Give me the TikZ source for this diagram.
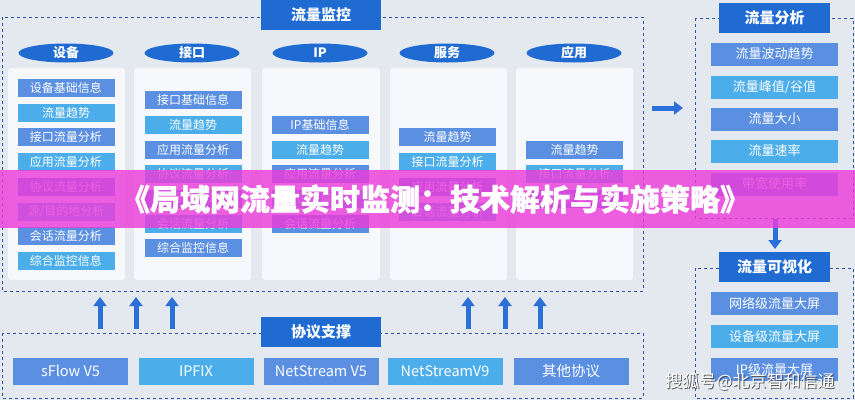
\documentclass[tikz,border=0pt]{standalone}
\usepackage{fontspec}
\setmainfont{Noto Sans CJK SC}
\newfontfamily\bannerfont{Noto Sans CJK SC}[BoldFeatures={FakeBold=1.2}]
\usepackage{xcolor}
\definecolor{bgpage}{HTML}{E4E9EF}
\definecolor{panelwhite}{HTML}{F6F8FB}
\definecolor{titleblue}{HTML}{1F6BD2}
\definecolor{itemblue}{HTML}{5A8FE2}
\definecolor{itemsky}{HTML}{4BAEEA}
\definecolor{framedash}{HTML}{2F55A8}
\definecolor{arrowblue}{HTML}{2B70D8}
\definecolor{bannerpink}{HTML}{EC3CDA}
\usepackage{tikz}
\usetikzlibrary{shapes.geometric,arrows.meta,positioning}

\begin{document}
\begin{tikzpicture}[x=1pt, y=-1pt,
    panel/.style={fill=panelwhite, rounded corners=3pt},
    frame/.style={draw=framedash, dashed, semithick},
    item/.style={minimum width=97pt, minimum height=18pt, inner sep=0pt, text=white, font=\fontsize{12}{14}\selectfont},
    blueitem/.style={item, fill=itemblue},
    skyitem/.style={item, fill=itemsky},
    sideblue/.style={blueitem, minimum width=127pt, minimum height=23pt, font=\fontsize{13}{15}\selectfont},
    sidesky/.style={skyitem, minimum width=127pt, minimum height=23pt, font=\fontsize{13}{15}\selectfont},
    protoblue/.style={blueitem, minimum width=115pt, minimum height=27pt, font=\fontsize{14.5}{16}\selectfont},
    protosky/.style={skyitem, minimum width=115pt, minimum height=27pt, font=\fontsize{14.5}{16}\selectfont},
    titlebox/.style={fill=titleblue, text=white, minimum width=120pt, minimum height=30pt, inner sep=0pt, font=\bfseries\fontsize{15}{17}\selectfont},
    tag/.style={ellipse, fill=titleblue, text=white, minimum width=95pt, minimum height=19pt, inner sep=0pt, font=\bfseries\fontsize{13}{15}\selectfont},
    bigarrow/.style={arrowblue, line width=5pt, -{Triangle[width=13pt, length=9pt]}}]
    \fill[bgpage] (0,0) rectangle (855,400);
    \useasboundingbox (0,0) rectangle (855,400);
    % Dashed frames
    \draw[frame] (2,17) rectangle (643,291);
    \draw[frame] (2,333) rectangle (643,398);
    \draw[frame] (695,18) rectangle (853,218);
    \draw[frame] (695,268) rectangle (853,398);
    % Titles
    \node[titlebox] (monitor) at (321,15) {流量监控};
    \node[titlebox] (protocol) at (321,332) {协议支撑};
    \node[titlebox, minimum width=111pt] (analysis) at (774.5,17.5) {流量分析};
    \node[titlebox, minimum width=111pt] (visual) at (774.5,266.5) {流量可视化};
    % Column panels
    \fill[panel] (8,68) rectangle (125,280);
    \fill[panel] (134,68) rectangle (251,280);
    \fill[panel] (262,68) rectangle (380,280);
    \fill[panel] (390,68) rectangle (507,280);
    \fill[panel] (516,68) rectangle (633,280);
    \node[tag] (tdev) at (66,53) {设备};
    \node[tag] (tif) at (192,53) {接口};
    \node[tag] (tip) at (320,53) {IP};
    \node[tag] (tsrv) at (447,53) {服务};
    \node[tag] (tapp) at (574,53) {应用};
    % Device items
    \node[blueitem] (dev1) at (66,88) {设备基础信息};
    \node[skyitem] (dev2) at (66,112.5) {流量趋势};
    \node[blueitem] (dev3) at (66,137) {接口流量分析};
    \node[skyitem] (dev4) at (66,162) {应用流量分析};
    \node[blueitem] (dev5) at (66,187) {协议流量分析};
    \node[skyitem] (dev6) at (66,211.5) {源/目的地分析};
    \node[blueitem] (dev7) at (66,236) {会话流量分析};
    \node[skyitem] (dev8) at (66,261) {综合监控信息};
    % Interface items
    \node[blueitem] (if1) at (193,100) {接口基础信息};
    \node[skyitem] (if2) at (193,125) {流量趋势};
    \node[blueitem] (if3) at (193,150) {应用流量分析};
    \node[skyitem] (if4) at (193,174) {协议流量分析};
    \node[blueitem] (if5) at (193,199) {源/目的地分析};
    \node[skyitem] (if6) at (193,223.5) {会话流量分析};
    \node[blueitem] (if7) at (193,248) {综合监控信息};
    % IP items
    \node[blueitem] (ip1) at (320,125) {IP基础信息};
    \node[skyitem] (ip2) at (320,150) {流量趋势};
    \node[blueitem] (ip3) at (320,174) {应用流量分析};
    \node[skyitem] (ip4) at (320,199) {协议流量分析};
    \node[blueitem] (ip5) at (320,223.5) {会话流量分析};
    % Service items
    \node[blueitem] (srv1) at (447.5,137) {流量趋势};
    \node[skyitem] (srv2) at (447.5,162) {接口流量分析};
    \node[blueitem] (srv3) at (447.5,187) {应用流量分析};
    \node[skyitem] (srv4) at (447.5,211.5) {会话流量分析};
    % Application items
    \node[blueitem] (app1) at (574.5,150) {流量趋势};
    \node[skyitem] (app2) at (574.5,174) {接口流量分析};
    \node[blueitem] (app3) at (574.5,199) {会话流量分析};
    % Analysis items
    \node[sideblue] (an1) at (774.5,54) {流量波动趋势};
    \node[sidesky] (an2) at (774.5,87) {流量峰值/谷值};
    \node[sideblue] (an3) at (774.5,119) {流量大小};
    \node[sidesky] (an4) at (774.5,151) {流量速率};
    \node[sideblue] (an5) at (774.5,184) {带宽使用率};
    % Visualisation items
    \node[sideblue] (vis1) at (774.5,303.5) {网络级流量大屏};
    \node[sidesky] (vis2) at (774.5,336.5) {设备级流量大屏};
    \node[sideblue] (vis3) at (774.5,369.5) {IP级流量大屏};
    % Protocols
    \node[protoblue] (sflow) at (70.5,371) {sFlow V5};
    \node[protosky] (ipfix) at (196,371) {IPFIX};
    \node[protoblue] (ns5) at (321,371) {NetStream V5};
    \node[protosky] (ns9) at (445,371) {NetStreamV9};
    \node[protoblue] (other) at (571,371) {其他协议};
    % Arrows
    \foreach \x [count=\i] in {100,136,172,468,505,540} {
        \coordinate (up\i a) at (\x,329);
        \coordinate (up\i b) at (\x,297);
        \draw[bigarrow] (up\i a) -- (up\i b);
    }
    \coordinate (rta) at (652,108);
    \coordinate (rtb) at (683,108);
    \draw[bigarrow] (rta) -- (rtb);
    \coordinate (dna) at (775,219);
    \coordinate (dnb) at (775,249);
    \draw[bigarrow] (dna) -- (dnb);
    % Banner
    \fill[bannerpink, opacity=0.82] (0,170) rectangle (855,228);
    \node[text=white, font=\bannerfont\bfseries\fontsize{30}{32}\selectfont] (banner) at (435,199) {《局域网流量实时监测：技术解析与实施策略》};
    % Watermark
    \node[text=black!75, opacity=0.85, font=\fontsize{17}{19}\selectfont] (wmshadow) at (751,383) {搜狐号@北京智和信通};
    \node[text=white, font=\fontsize{17}{19}\selectfont] (wm) at (750,382) {搜狐号@北京智和信通};
\end{tikzpicture}
\end{document}
